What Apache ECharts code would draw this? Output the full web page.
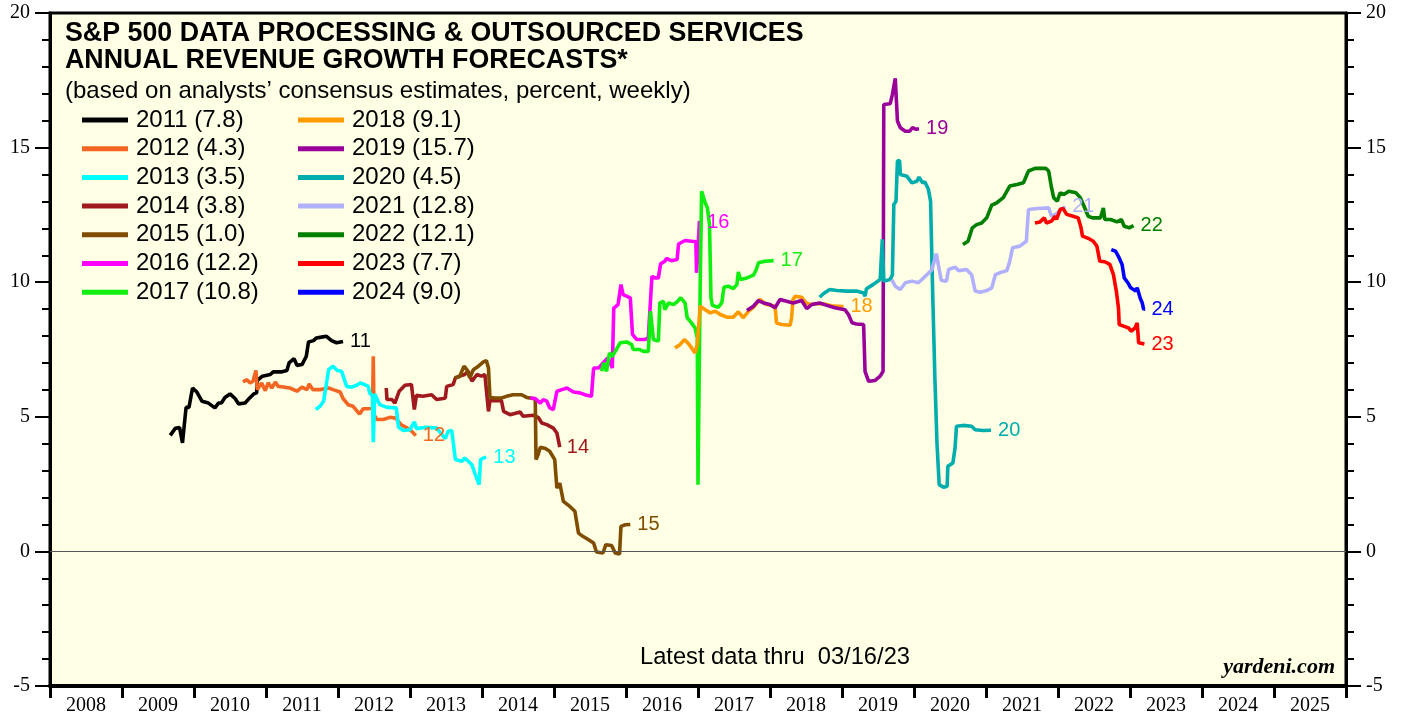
<!DOCTYPE html>
<html>
<head>
<meta charset="utf-8">
<script src="https://cdn.jsdelivr.net/npm/echarts@6.0.0/dist/echarts.min.js"></script>
<style>
  html, body { margin: 0; padding: 0; background: #fff; }
  #chart { width: 1405px; height: 717px; }
</style>
</head>
<body>
<div id="chart"></div>
<script>
// forecast years and final values (legend)
const YEARS  = ['2011', '2012', '2013', '2014', '2015', '2016', '2017', '2018', '2019', '2020', '2021', '2022', '2023', '2024'];
const FINALS = ['7.8', '4.3', '3.5', '3.8', '1.0', '12.2', '10.8', '9.1', '15.7', '4.5', '12.8', '12.1', '7.7', '9.0'];
const X_LABELS = ['2008', '2009', '2010', '2011', '2012', '2013', '2014', '2015', '2016', '2017', '2018', '2019', '2020', '2021', '2022', '2023', '2024', '2025'];
const Y_MIN = -5, Y_MAX = 20, Y_STEP = 5;

// weekly consensus, [decimal year, percent]
const s2011 = [[2009.67,4.31],[2009.74,4.57],[2009.80,4.6],[2009.84,4.03],[2009.89,5.35],[2009.93,5.35],[2009.98,6.07],[2010.04,5.92],[2010.11,5.58],[2010.20,5.51],[2010.29,5.33],[2010.34,5.51],[2010.38,5.51],[2010.43,5.72],[2010.50,5.85],[2010.57,5.68],[2010.62,5.48],[2010.71,5.51],[2010.78,5.72],[2010.83,5.85],[2010.87,5.89],[2010.88,6.35],[2010.95,6.51],[2011.06,6.57],[2011.10,6.67],[2011.22,6.67],[2011.29,6.72],[2011.32,7.0],[2011.39,7.16],[2011.43,6.91],[2011.50,6.94],[2011.56,7.25],[2011.59,7.78],[2011.66,7.83],[2011.70,7.93],[2011.77,7.96],[2011.84,7.99],[2011.91,7.83],[2011.98,7.75],[2012.07,7.8]];
const s2012 = [[2010.68,6.29],[2010.73,6.38],[2010.78,6.26],[2010.82,6.32],[2010.86,6.72],[2010.88,6.01],[2010.94,6.26],[2010.99,5.97],[2011.03,6.26],[2011.08,6.07],[2011.13,6.29],[2011.17,6.13],[2011.24,6.11],[2011.33,6.07],[2011.43,5.95],[2011.50,6.1],[2011.57,6.01],[2011.60,6.22],[2011.65,6.01],[2011.75,6.01],[2011.87,6.07],[2011.93,6.01],[2012.03,5.92],[2012.07,5.68],[2012.14,5.45],[2012.21,5.39],[2012.30,5.1],[2012.35,5.3],[2012.42,5.3],[2012.48,5.33],[2012.49,7.25],[2012.50,5.08],[2012.54,4.9],[2012.63,4.9],[2012.72,4.98],[2012.80,4.95],[2012.88,4.7],[2012.95,4.6],[2013.03,4.45],[2013.08,4.3]];
const s2013 = [[2011.69,5.27],[2011.75,5.39],[2011.80,5.58],[2011.83,6.07],[2011.87,6.75],[2011.93,6.88],[2011.99,6.72],[2012.05,6.69],[2012.12,6.13],[2012.19,6.1],[2012.26,6.17],[2012.31,6.26],[2012.35,6.22],[2012.42,6.13],[2012.44,5.89],[2012.48,5.76],[2012.49,4.06],[2012.51,5.85],[2012.58,5.45],[2012.68,5.35],[2012.81,5.33],[2012.84,4.61],[2012.91,4.49],[2013.0,4.52],[2013.06,4.81],[2013.09,4.56],[2013.23,4.61],[2013.37,4.58],[2013.49,4.19],[2013.53,4.46],[2013.58,4.49],[2013.63,3.41],[2013.72,3.35],[2013.76,3.47],[2013.86,3.22],[2013.90,2.91],[2013.96,2.48],[2013.98,3.41],[2014.02,3.47],[2014.06,3.5]];
const s2014 = [[2012.67,6.07],[2012.68,5.64],[2012.75,5.64],[2012.79,5.51],[2012.85,5.95],[2012.93,6.17],[2013.02,6.2],[2013.06,5.27],[2013.09,5.8],[2013.18,5.76],[2013.30,5.82],[2013.37,5.64],[2013.46,5.68],[2013.49,5.7],[2013.51,6.13],[2013.60,6.2],[2013.63,6.44],[2013.69,6.51],[2013.76,6.57],[2013.81,6.7],[2013.86,6.32],[2013.93,6.57],[2013.99,6.51],[2014.04,6.57],[2014.09,5.2],[2014.11,5.6],[2014.27,5.6],[2014.30,5.2],[2014.39,5.08],[2014.53,5.18],[2014.57,5.02],[2014.71,5.06],[2014.78,4.98],[2014.83,4.77],[2014.90,4.71],[2014.99,4.58],[2015.04,4.4],[2015.08,3.87]];
const s2015 = [[2013.62,6.45],[2013.69,6.5],[2013.75,6.88],[2013.79,6.75],[2013.83,6.44],[2013.88,6.75],[2013.95,6.88],[2014.02,7.04],[2014.06,7.09],[2014.09,6.81],[2014.11,5.72],[2014.18,5.7],[2014.27,5.7],[2014.34,5.76],[2014.43,5.82],[2014.55,5.82],[2014.62,5.72],[2014.71,5.68],[2014.74,5.64],[2014.75,3.41],[2014.78,3.6],[2014.81,3.87],[2014.88,3.82],[2014.94,3.72],[2015.01,3.41],[2015.04,2.35],[2015.08,2.54],[2015.13,1.86],[2015.22,1.67],[2015.29,1.49],[2015.34,0.68],[2015.40,0.56],[2015.48,0.43],[2015.55,0.31],[2015.59,-0.02],[2015.68,-0.06],[2015.72,0.25],[2015.80,0.22],[2015.85,-0.06],[2015.91,-0.1],[2015.93,0.93],[2015.99,0.99],[2016.06,1.0]];
const s2016 = [[2014.67,5.7],[2014.74,5.68],[2014.81,5.51],[2014.85,5.64],[2014.90,5.58],[2014.94,5.33],[2014.99,5.27],[2015.04,5.95],[2015.11,6.01],[2015.18,6.07],[2015.27,5.92],[2015.36,5.89],[2015.45,5.8],[2015.52,5.76],[2015.55,6.81],[2015.62,6.81],[2015.68,7.0],[2015.75,7.19],[2015.81,6.81],[2015.83,9.04],[2015.89,9.17],[2015.93,9.91],[2015.96,9.54],[2016.06,9.42],[2016.09,8.06],[2016.15,7.87],[2016.26,7.87],[2016.31,7.93],[2016.36,10.22],[2016.40,10.16],[2016.45,10.16],[2016.48,10.68],[2016.54,10.78],[2016.56,10.88],[2016.63,10.8],[2016.71,10.84],[2016.73,11.42],[2016.82,11.55],[2016.91,11.52],[2016.97,11.5],[2016.98,10.35],[2017.0,11.28],[2017.02,12.27],[2017.03,12.2]];
const s2017 = [[2015.66,6.69],[2015.69,7.0],[2015.73,6.69],[2015.77,7.37],[2015.81,7.25],[2015.85,7.43],[2015.92,7.75],[2016.01,7.78],[2016.08,7.68],[2016.10,7.5],[2016.19,7.5],[2016.24,7.43],[2016.31,7.43],[2016.34,8.92],[2016.38,7.87],[2016.45,7.81],[2016.47,9.23],[2016.52,9.29],[2016.54,8.98],[2016.59,9.23],[2016.66,9.17],[2016.71,9.27],[2016.76,9.42],[2016.82,9.23],[2016.85,8.68],[2016.91,8.49],[2016.96,8.3],[2016.99,7.93],[2017.0,2.48],[2017.03,9.79],[2017.05,13.38],[2017.07,13.44],[2017.10,12.95],[2017.13,12.76],[2017.16,12.14],[2017.18,9.42],[2017.20,9.14],[2017.28,9.07],[2017.33,9.23],[2017.36,9.81],[2017.42,9.85],[2017.49,9.76],[2017.54,9.91],[2017.56,10.38],[2017.59,10.1],[2017.68,10.16],[2017.77,10.26],[2017.81,10.47],[2017.84,10.72],[2017.93,10.78],[2018.05,10.8]];
const s2018 = [[2016.68,7.56],[2016.75,7.68],[2016.81,7.87],[2016.87,7.71],[2016.91,7.56],[2016.96,7.37],[2016.99,7.68],[2017.03,9.11],[2017.10,8.98],[2017.17,8.86],[2017.24,8.92],[2017.31,8.8],[2017.40,8.7],[2017.49,8.7],[2017.56,8.9],[2017.63,8.68],[2017.70,8.92],[2017.77,9.07],[2017.86,9.36],[2017.95,9.17],[2018.07,9.11],[2018.09,8.49],[2018.16,8.43],[2018.28,8.4],[2018.30,8.68],[2018.32,9.36],[2018.35,9.48],[2018.44,9.44],[2018.50,9.23],[2018.56,9.17],[2018.65,9.2],[2018.74,9.2],[2018.88,9.11],[2019.02,9.1]];
const s2019 = [[2017.68,8.95],[2017.77,9.11],[2017.84,9.32],[2017.91,9.23],[2018.0,9.17],[2018.07,9.05],[2018.14,9.36],[2018.23,9.29],[2018.32,9.23],[2018.44,9.32],[2018.51,9.02],[2018.58,9.17],[2018.69,9.23],[2018.79,9.14],[2018.90,9.05],[2019.04,8.98],[2019.09,8.8],[2019.14,8.49],[2019.20,8.45],[2019.30,8.43],[2019.32,6.69],[2019.37,6.32],[2019.46,6.35],[2019.53,6.51],[2019.57,6.69],[2019.58,16.6],[2019.67,16.63],[2019.70,16.98],[2019.74,17.57],[2019.76,17.53],[2019.77,15.99],[2019.81,15.74],[2019.88,15.61],[2019.94,15.61],[2019.98,15.74],[2020.03,15.68],[2020.07,15.7]];
const s2020 = [[2018.69,9.44],[2018.74,9.57],[2018.83,9.73],[2018.93,9.69],[2019.07,9.67],[2019.20,9.67],[2019.30,9.6],[2019.32,9.48],[2019.34,9.76],[2019.43,9.91],[2019.53,10.1],[2019.56,11.59],[2019.58,10.04],[2019.67,10.1],[2019.70,10.28],[2019.72,12.89],[2019.75,13.01],[2019.77,14.5],[2019.80,14.52],[2019.81,14.0],[2019.90,13.94],[2019.97,13.69],[2020.04,13.75],[2020.07,13.9],[2020.12,13.69],[2020.15,13.73],[2020.20,13.45],[2020.23,13.01],[2020.26,9.54],[2020.29,6.44],[2020.32,3.97],[2020.35,2.48],[2020.41,2.38],[2020.46,2.42],[2020.47,3.16],[2020.54,3.28],[2020.57,3.84],[2020.59,4.65],[2020.68,4.68],[2020.80,4.65],[2020.85,4.52],[2020.96,4.49],[2021.07,4.5]];
const s2021 = [[2019.69,10.1],[2019.74,9.85],[2019.81,9.73],[2019.88,9.98],[2019.97,10.04],[2020.06,9.98],[2020.11,10.1],[2020.18,10.28],[2020.25,10.47],[2020.31,11.06],[2020.35,10.47],[2020.38,10.06],[2020.45,10.04],[2020.48,10.47],[2020.57,10.56],[2020.62,10.43],[2020.73,10.47],[2020.80,10.28],[2020.85,9.67],[2020.92,9.63],[2021.01,9.69],[2021.08,9.79],[2021.13,10.28],[2021.19,10.35],[2021.29,10.43],[2021.33,10.78],[2021.37,11.28],[2021.47,11.34],[2021.56,11.52],[2021.59,12.7],[2021.71,12.74],[2021.87,12.76],[2021.91,12.45],[2021.97,12.52],[2022.04,12.7],[2022.10,12.8]];
const s2022 = [[2020.68,11.4],[2020.75,11.52],[2020.81,12.02],[2020.87,12.14],[2020.94,12.2],[2021.01,12.39],[2021.08,12.86],[2021.15,12.95],[2021.24,13.14],[2021.33,13.57],[2021.43,13.63],[2021.52,13.69],[2021.59,14.13],[2021.68,14.23],[2021.83,14.23],[2021.87,14.13],[2021.91,13.51],[2021.94,13.14],[2021.99,13.01],[2022.03,13.32],[2022.08,13.26],[2022.15,13.38],[2022.25,13.32],[2022.31,13.14],[2022.36,12.83],[2022.42,12.45],[2022.48,12.39],[2022.59,12.39],[2022.63,12.76],[2022.65,12.33],[2022.73,12.33],[2022.82,12.24],[2022.88,12.33],[2022.92,12.08],[2022.99,12.02],[2023.05,12.1]];
const s2023 = [[2021.68,12.2],[2021.75,12.24],[2021.81,12.39],[2021.84,12.2],[2021.91,12.27],[2021.96,12.45],[2021.98,12.33],[2022.03,12.7],[2022.07,12.74],[2022.12,12.52],[2022.21,12.45],[2022.28,12.39],[2022.32,12.02],[2022.34,11.71],[2022.42,11.63],[2022.49,11.52],[2022.54,11.34],[2022.58,10.78],[2022.65,10.76],[2022.72,10.66],[2022.77,10.28],[2022.81,9.67],[2022.84,9.04],[2022.85,8.43],[2022.92,8.36],[2022.98,8.3],[2023.02,8.18],[2023.07,8.3],[2023.10,8.49],[2023.12,7.75],[2023.20,7.7]];
const s2024 = [[2022.74,11.21],[2022.80,11.15],[2022.85,10.9],[2022.89,10.66],[2022.92,10.16],[2022.97,9.98],[2023.01,9.79],[2023.08,9.67],[2023.10,9.79],[2023.14,9.42],[2023.17,9.23],[2023.19,8.98],[2023.20,9.0]];

const SERIES_DATA = [s2011, s2012, s2013, s2014, s2015, s2016, s2017, s2018, s2019, s2020, s2021, s2022, s2023, s2024];
const COLORS = ['#000000', '#F26522', '#00FFFF', '#A0191E', '#804D00', '#FF00FF', '#11EE11',
                '#FF9900', '#990099', '#00ADAD', '#B0B0FF', '#007F00', '#FF0000', '#0000FF'];

const SANS = '"Liberation Sans", Arial, sans-serif';
const SERIF = '"Liberation Serif", "Times New Roman", serif';

const names = YEARS.map((y, i) => y + ' (' + FINALS[i] + ')');

const series = SERIES_DATA.map((data, i) => {
  const s = {
    name: names[i],
    type: 'line',
    data: data,
    showSymbol: false,
    symbol: 'none',
    color: COLORS[i],
    lineStyle: { color: COLORS[i], width: 3.6 },
    endLabel: {
      show: true, formatter: YEARS[i].slice(2), color: COLORS[i],
      fontSize: 20, fontFamily: SANS, distance: 7
    },
    z: 3
  };
  if (i === 0) {
    s.markLine = {
      silent: true, symbol: 'none', label: { show: false },
      lineStyle: { color: '#555', width: 1, type: 'solid' },
      data: [{ yAxis: 0 }]
    };
  }
  return s;
});

function legendCol(left, items) {
  return {
    orient: 'vertical', left: left, top: 103,
    icon: 'rect', itemWidth: 46, itemHeight: 5, itemGap: 4.7,
    selectedMode: false,
    textStyle: { fontSize: 24, lineHeight: 24, fontFamily: SANS, color: '#000', padding: [0, 0, 0, 3] },
    data: items
  };
}

function yAxis(pos) {
  return {
    type: 'value', position: pos, min: Y_MIN, max: Y_MAX, interval: Y_STEP,
    axisLine: { show: true, lineStyle: { color: '#000', width: 3 } },
    axisTick: { show: true, length: 15, lineStyle: { color: '#000', width: 2 } },
    minorTick: { show: true, splitNumber: 5, length: 8, lineStyle: { color: '#000', width: 2 } },
    splitLine: { show: false },
    axisLabel: { fontFamily: SERIF, fontSize: 20, color: '#000', margin: 20 }
  };
}

const chart = echarts.init(document.getElementById('chart'));
chart.setOption({
  animation: false,
  backgroundColor: '#ffffff',
  grid: {
    left: 50, right: 59, top: 13, bottom: 31,
    show: true, backgroundColor: '#FFFFE5', borderColor: '#000', borderWidth: 3
  },
  legend: [legendCol(77, names.slice(0, 7)), legendCol(293, names.slice(7))],
  xAxis: [
    { type: 'value', min: 2008, max: 2026, show: false },
    {
      type: 'category', data: X_LABELS, boundaryGap: true, position: 'bottom',
      axisLine: { show: true, onZero: false, lineStyle: { color: '#000', width: 4 } },
      axisTick: { show: true, interval: 0, length: 12, lineStyle: { color: '#000', width: 3 } },
      axisLabel: { interval: 0, fontFamily: SERIF, fontSize: 20, color: '#000', margin: 10 },
      splitLine: { show: false }
    }
  ],
  yAxis: [yAxis('left'), yAxis('right')],
  graphic: [
    { type: 'text', left: 65, top: 20, z: 10,
      style: { text: 'S&P 500 DATA PROCESSING & OUTSOURCED SERVICES', font: 'bold 26.8px ' + SANS, fill: '#000' } },
    { type: 'text', left: 65, top: 47, z: 10,
      style: { text: 'ANNUAL REVENUE GROWTH FORECASTS*', font: 'bold 26.8px ' + SANS, fill: '#000' } },
    { type: 'text', left: 65, top: 79, z: 10,
      style: { text: '(based on analysts\u2019 consensus estimates, percent, weekly)', font: '24px ' + SANS, fill: '#000' } },
    { type: 'text', left: 640, top: 645, z: 10,
      style: { text: 'Latest data thru  03/16/23', font: '23.7px ' + SANS, fill: '#000' } },
    { type: 'text', right: 70, top: 656, z: 10,
      style: { text: 'yardeni.com', font: 'italic bold 22px ' + SERIF, fill: '#000' } }
  ],
  series: series
});
</script>
</body>
</html>
